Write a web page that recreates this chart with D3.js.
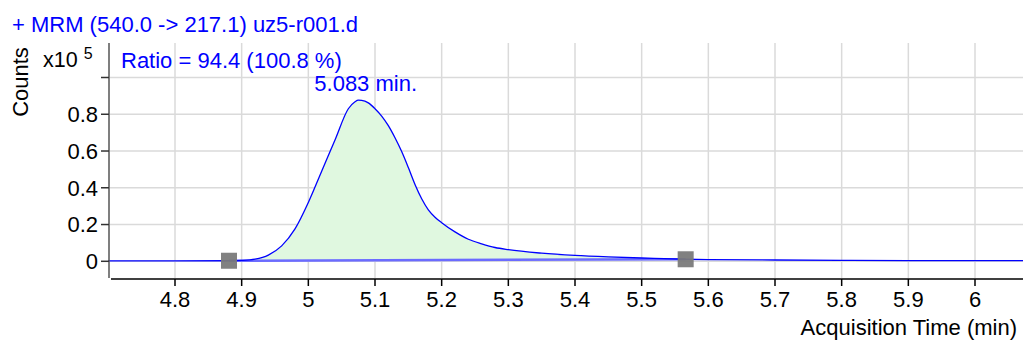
<!DOCTYPE html>
<html>
<head>
<meta charset="utf-8">
<script src="https://cdn.jsdelivr.net/npm/d3@7"></script>
<style>
  body { margin: 0; background: #fff; }
  text { font-family: "Liberation Sans", Arial, sans-serif; }
</style>
</head>
<body>
<script>
// chromatogram values (counts x10^5)
var times = [4.70, 4.80, 4.88, 4.90, 4.92, 4.94, 4.96, 4.98, 5.00, 5.02, 5.04, 5.06, 5.07, 5.075, 5.08, 5.09, 5.10,
             5.11, 5.12, 5.13, 5.14, 5.15, 5.16, 5.17, 5.18, 5.19, 5.20, 5.22, 5.24, 5.26, 5.28, 5.30, 5.35, 5.40,
             5.45, 5.50, 5.565, 5.60, 5.70, 5.80, 5.90, 6.00, 6.08];
var counts = [0.002, 0.002, 0.003, 0.005, 0.012, 0.034, 0.084, 0.176, 0.32, 0.49, 0.66, 0.83, 0.868, 0.877, 0.876, 0.862, 0.83,
              0.79, 0.738, 0.672, 0.597, 0.51, 0.418, 0.34, 0.28, 0.24, 0.21, 0.16, 0.12, 0.095, 0.075, 0.063, 0.044, 0.032,
              0.024, 0.018, 0.011, 0.009, 0.007, 0.005, 0.004, 0.004, 0.004];
var xTicks = [4.8, 4.9, 5.0, 5.1, 5.2, 5.3, 5.4, 5.5, 5.6, 5.7, 5.8, 5.9, 6.0];
var yTicks = [0, 0.2, 0.4, 0.6, 0.8, 1.0];
var yTickLabels = ["0", "0.2", "0.4", "0.6", "0.8", ""];
var integStart = 4.881, integEnd = 5.566;   // baseline markers
var baseStart = 0.003, baseEnd = 0.011;

var title = "+ MRM (540.0 -> 217.1) uz5-r001.d";
var ratioLabel = "Ratio = 94.4 (100.8 %)";
var peakLabel = "5.083 min.";
var peakTime = 5.08;

var width = 1023, height = 342;
var plot = {left: 110, right: 1023, top: 43, bottom: 278};
var fs = "22px";

var svg = d3.select("body").append("svg")
    .attr("width", width)
    .attr("height", height);

var x = d3.scaleLinear().domain([4.7025, 6.072]).range([plot.left, plot.right]);
var y = d3.scaleLinear().domain([-0.0909, 1.1877]).range([plot.bottom, plot.top]);

// grid
svg.append("g").selectAll("line.vg")
    .data(xTicks)
  .enter().append("line")
    .attr("x1", d => x(d)).attr("x2", d => x(d))
    .attr("y1", plot.top).attr("y2", plot.bottom)
    .style("stroke", "#dadada").style("stroke-width", 1.5);
svg.append("g").selectAll("line.hg")
    .data(yTicks)
  .enter().append("line")
    .attr("x1", plot.left).attr("x2", plot.right)
    .attr("y1", d => y(d)).attr("y2", d => y(d))
    .style("stroke", "#dadada").style("stroke-width", 1.5);

// integrated area between curve and baseline
var pts = times.map((t, i) => ({t: t, v: counts[i]}));
var baseAt = t => baseStart + (baseEnd - baseStart) * (t - integStart) / (integEnd - integStart);
var curve = d3.line().x(d => x(d.t)).y(d => y(d.v)).curve(d3.curveMonotoneX);

// dense sampling for area so fill follows the smoothed line
var tmp = svg.append("path").attr("d", curve(pts)).style("fill", "none");
var node = tmp.node(), len = node.getTotalLength();
var dense = [];
for (var s = 0; s <= len; s += 1) {
  var p = node.getPointAtLength(s);
  dense.push({t: x.invert(p.x), v: y.invert(p.y)});
}
tmp.remove();
var inside = dense.filter(d => d.t >= integStart && d.t <= integEnd);
svg.append("path")
    .datum(inside)
    .attr("d", d3.area().x(d => x(d.t)).y0(d => y(baseAt(d.t))).y1(d => y(d.v)))
    .style("fill", "#e0f8e0");

// baseline
svg.append("line")
    .attr("x1", x(integStart)).attr("y1", y(baseStart))
    .attr("x2", x(integEnd)).attr("y2", y(baseEnd))
    .style("stroke", "#6b6bff").style("stroke-width", 2.5);

// signal
svg.append("path")
    .attr("d", curve(pts))
    .style("fill", "none").style("stroke", "#0000ff").style("stroke-width", 1.3);

// markers
svg.selectAll("rect.mk")
    .data([[integStart, baseStart], [integEnd, baseEnd]])
  .enter().append("rect")
    .attr("x", d => x(d[0]) - 8).attr("y", d => y(d[1]) - 8)
    .attr("width", 16).attr("height", 16)
    .style("fill", "#7a7a7a").style("opacity", 0.95);

// axes
svg.append("line")
    .attr("x1", 109).attr("x2", 109).attr("y1", plot.top).attr("y2", plot.bottom)
    .style("stroke", "#555").style("stroke-width", 1.5);
svg.append("line")
    .attr("x1", 111).attr("x2", plot.right).attr("y1", 279).attr("y2", 279)
    .style("stroke", "#000").style("stroke-width", 1.5);

svg.append("g").selectAll("line.yt")
    .data(yTicks)
  .enter().append("line")
    .attr("x1", 101).attr("x2", 109)
    .attr("y1", d => y(d)).attr("y2", d => y(d))
    .style("stroke", "#333").style("stroke-width", 1.5);
svg.append("g").selectAll("text.yl")
    .data(yTicks)
  .enter().append("text")
    .attr("x", 98).attr("y", d => y(d)).attr("dy", "0.36em")
    .style("text-anchor", "end").style("font-size", fs).style("fill", "#000")
    .text((d, i) => yTickLabels[i]);

svg.append("g").selectAll("line.xt")
    .data(xTicks)
  .enter().append("line")
    .attr("x1", d => x(d)).attr("x2", d => x(d))
    .attr("y1", 279).attr("y2", 286)
    .style("stroke", "#000").style("stroke-width", 1.5);
svg.append("g").selectAll("text.xl")
    .data(xTicks)
  .enter().append("text")
    .attr("x", d => x(d)).attr("y", 307)
    .style("text-anchor", "middle").style("font-size", fs).style("fill", "#000")
    .text(d => d3.format("")(d));

// labels
svg.append("text")
    .attr("x", 12).attr("y", 32)
    .style("font-size", fs).style("fill", "#0000ff")
    .text(title);
svg.append("text")
    .attr("x", 1017).attr("y", 335)
    .style("text-anchor", "end").style("font-size", fs).style("fill", "#000")
    .text("Acquisition Time (min)");
svg.append("text")
    .attr("transform", "translate(28,82) rotate(-90)")
    .style("text-anchor", "middle").style("font-size", fs).style("fill", "#000")
    .text("Counts");
var mult = svg.append("text").attr("x", 43).attr("y", 67)
    .style("font-size", "21.5px").style("fill", "#000");
mult.append("tspan").text("x10 ");
mult.append("tspan").attr("dy", -8).style("font-size", "16px").text("5");

svg.append("text")
    .attr("x", 121).attr("y", 68)
    .style("font-size", fs).style("fill", "#0000ff")
    .text(ratioLabel);
svg.append("text")
    .attr("x", x(peakTime) + 4).attr("y", 91)
    .style("text-anchor", "middle").style("font-size", fs).style("fill", "#0000ff")
    .text(peakLabel);
</script>
</body>
</html>
